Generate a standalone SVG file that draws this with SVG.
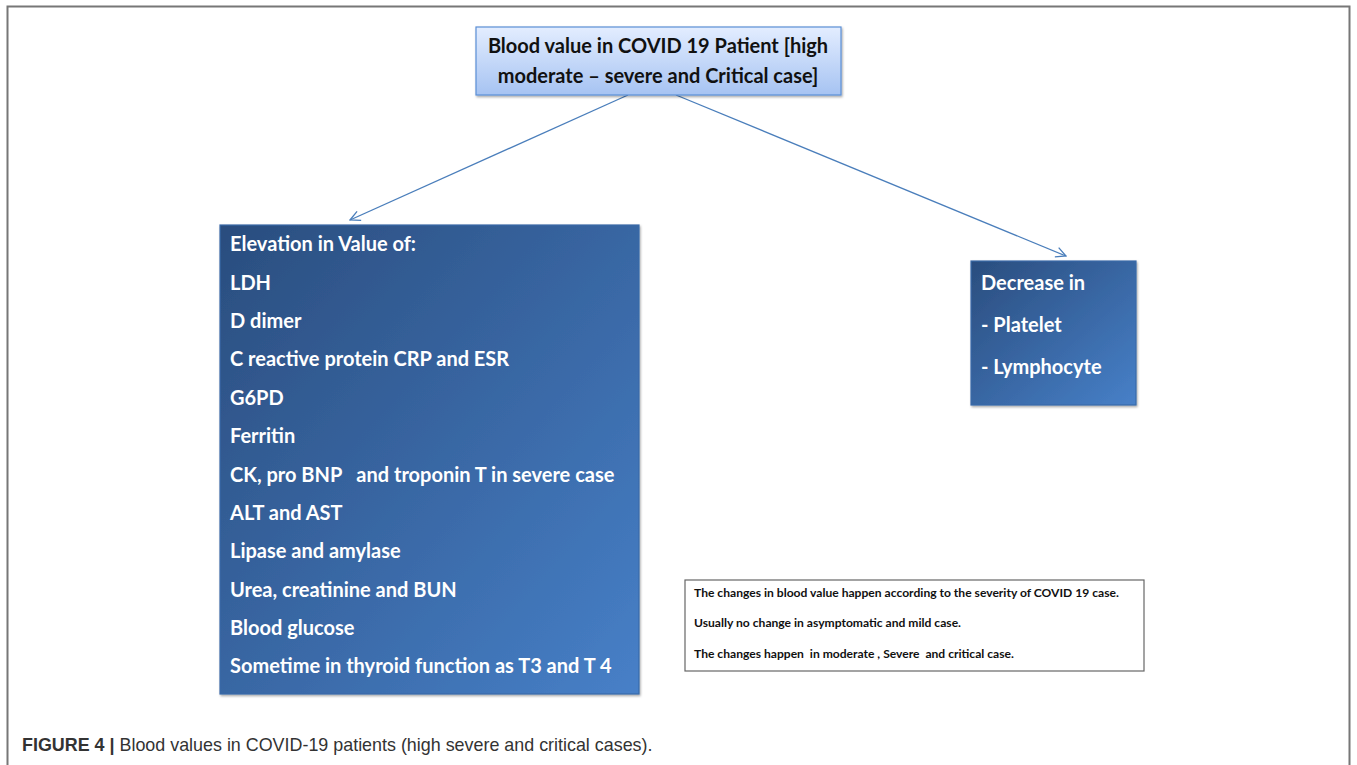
<svg xmlns="http://www.w3.org/2000/svg" width="1357" height="765" viewBox="0 0 1357 765">
<defs>
<linearGradient id="gTop" x1="0" y1="0" x2="0" y2="1">
<stop offset="0" stop-color="#e3edff"/>
<stop offset="1" stop-color="#a6c3f2"/>
</linearGradient>
<linearGradient id="gDark" x1="0" y1="0" x2="1" y2="1">
<stop offset="0" stop-color="#2a4d7e"/>
<stop offset="1" stop-color="#4780c8"/>
</linearGradient>
<marker id="arr" viewBox="0 0 12 12" refX="11" refY="6" markerWidth="12" markerHeight="12" markerUnits="userSpaceOnUse" orient="auto">
<path d="M1,1 L11,6 L1,11" fill="none" stroke="#4a7ebb" stroke-width="1.3"/>
</marker>
<filter id="sh" x="-5%" y="-5%" width="112%" height="112%">
<feDropShadow dx="1" dy="1.5" stdDeviation="1.2" flood-color="#000" flood-opacity="0.35"/>
</filter>
</defs>
<style>
.b{font-family:Lato,"Open Sans",sans-serif;font-weight:bold;font-size:20px}
.w{fill:#ffffff}
.k{fill:#111111}
.n{font-family:Lato,"Open Sans",sans-serif;font-weight:bold;font-size:12.1px;fill:#111}
.cap{font-family:"Liberation Sans",Arial,sans-serif;font-size:17.9px;fill:#333}
</style>
<rect width="1357" height="765" fill="#ffffff"/>
<path d="M7.5,765 V6.5 H1349.5 V765" fill="none" stroke="#777" stroke-width="2"/>
<g id="connectors">
<line x1="628" y1="95" x2="350" y2="220" stroke="#4a7ebb" stroke-width="1.3" marker-end="url(#arr)"/>
<line x1="676" y1="95" x2="1066" y2="256" stroke="#4a7ebb" stroke-width="1.3" marker-end="url(#arr)"/>
</g>
<g id="top">
<rect x="476" y="27" width="365" height="68" fill="url(#gTop)" stroke="#5b8fd6" stroke-width="1.2" filter="url(#sh)"/>
<text class="b k" x="658" y="53" text-anchor="middle">Blood value in COVID 19 Patient [high</text>
<text class="b k" x="658" y="83" text-anchor="middle">moderate – severe and Critical case]</text>
</g>
<g id="elevation">
<rect x="220" y="225" width="419" height="469" fill="url(#gDark)" stroke="#3a6aa8" stroke-width="1.2" filter="url(#sh)"/>
<g class="b w">
<text x="230" y="251">Elevation in Value of:</text>
<text x="230" y="290">LDH</text>
<text x="230" y="328">D dimer</text>
<text x="230" y="366">C reactive protein CRP and ESR</text>
<text x="230" y="405">G6PD</text>
<text x="230" y="443">Ferritin</text>
<text x="230" y="482" xml:space="preserve">CK, pro BNP   and troponin T in severe case</text>
<text x="230" y="520">ALT and AST</text>
<text x="230" y="558">Lipase and amylase</text>
<text x="230" y="597">Urea, creatinine and BUN</text>
<text x="230" y="635">Blood glucose</text>
<text x="230" y="673">Sometime in thyroid function as T3 and T 4</text>
</g>
</g>
<g id="decrease">
<rect x="971" y="261" width="165" height="144" fill="url(#gDark)" stroke="#3a6aa8" stroke-width="1.2" filter="url(#sh)"/>
<g class="b w">
<text x="981" y="290">Decrease in</text>
<text x="981" y="332">- Platelet</text>
<text x="981" y="374">- Lymphocyte</text>
</g>
</g>
<g id="note">
<rect x="685" y="580" width="459" height="91" fill="#ffffff" stroke="#666" stroke-width="1.2"/>
<text class="n" x="694" y="597">The changes in blood value happen according to the severity of COVID 19 case.</text>
<text class="n" x="694" y="627">Usually no change in asymptomatic and mild case.</text>
<text class="n" x="694" y="658" xml:space="preserve">The changes happen  in moderate , Severe  and critical case.</text>
</g>
<g id="caption">
<text class="cap" x="22" y="751"><tspan font-weight="bold">FIGURE 4 |</tspan> Blood values in COVID-19 patients (high severe and critical cases).</text>
</g>
</svg>
